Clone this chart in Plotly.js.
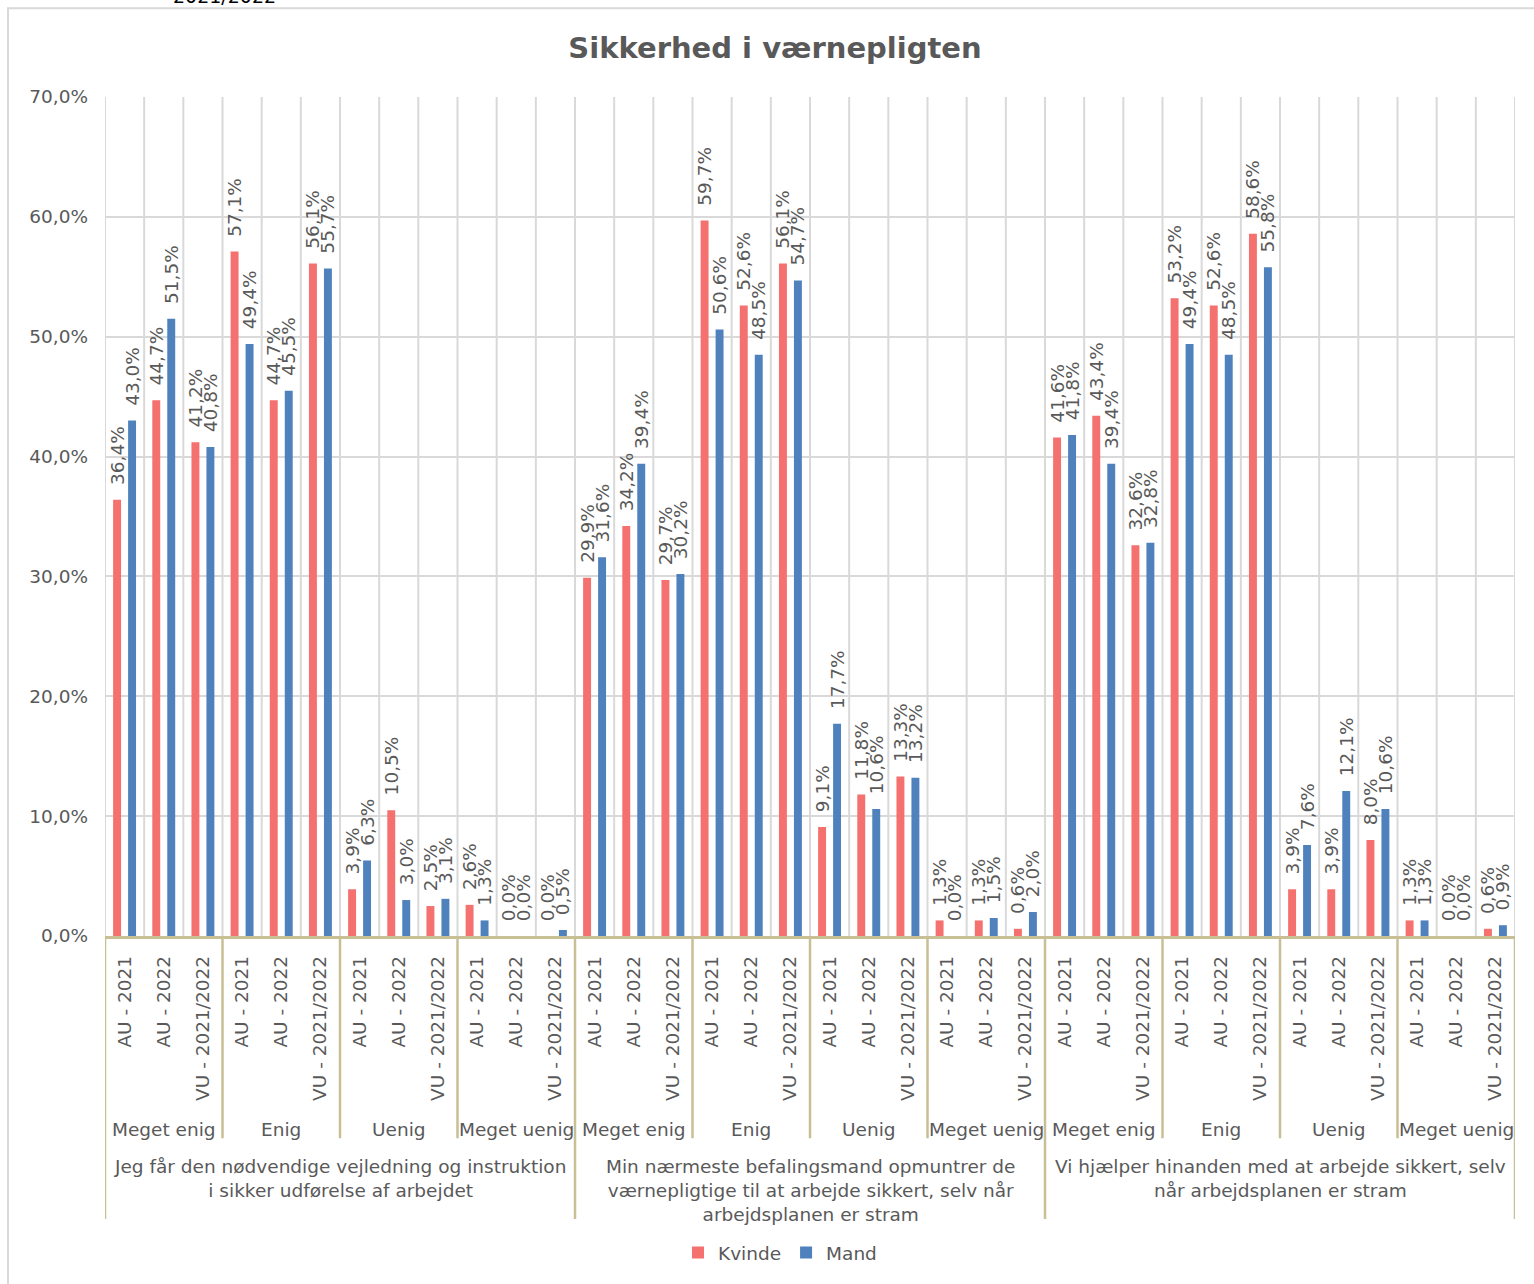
<!DOCTYPE html>
<html>
<head>
<meta charset="utf-8">
<script src="https://cdn.plot.ly/plotly-3.0.1.min.js"></script>
<style>
  html, body { margin: 0; padding: 0; background: #ffffff; }
  #chart { width: 1534px; height: 1284px; }
</style>
</head>
<body>
<div id="chart"></div>
<script>
// ---- Data ----
const questions = [
  "Jeg får den nødvendige vejledning og instruktion<br>i sikker udførelse af arbejdet",
  "Min nærmeste befalingsmand opmuntrer de<br>værnepligtige til at arbejde sikkert, selv når<br>arbejdsplanen er stram",
  "Vi hjælper hinanden med at arbejde sikkert, selv<br>når arbejdsplanen er stram"
];
const answers = ["Meget enig", "Enig", "Uenig", "Meget uenig"];
const periods = ["AU - 2021", "AU - 2022", "VU - 2021/2022"];

// Values in %, ordered question -> answer -> period
const kvinde = [
  36.4, 44.7, 41.2,   57.1, 44.7, 56.1,   3.9, 10.5, 2.5,   2.6, 0.0, 0.0,
  29.9, 34.2, 29.7,   59.7, 52.6, 56.1,   9.1, 11.8, 13.3,  1.3, 1.3, 0.6,
  41.6, 43.4, 32.6,   53.2, 52.6, 58.6,   3.9, 3.9, 8.0,    1.3, 0.0, 0.6
];
const mand = [
  43.0, 51.5, 40.8,   49.4, 45.5, 55.7,   6.3, 3.0, 3.1,    1.3, 0.0, 0.5,
  31.6, 39.4, 30.2,   50.6, 48.5, 54.7,   17.7, 10.6, 13.2, 0.0, 1.5, 2.0,
  41.8, 39.4, 32.8,   49.4, 48.5, 55.8,   7.6, 12.1, 10.6,  1.3, 0.0, 0.9
];
const seriesNames = ["Kvinde", "Mand"];
const yTicks = [0, 10, 20, 30, 40, 50, 60, 70];
const yTickText = yTicks.map(v => v.toFixed(1).replace(".", ",") + "%");

// ---- Build category positions ----
const nP = periods.length, nA = answers.length, nQ = questions.length;
const nCat = nP * nA * nQ;
const xIdx = [], tickText = [];
for (let q = 0; q < nQ; q++)
  for (let a = 0; a < nA; a++)
    for (let p = 0; p < nP; p++) { xIdx.push(xIdx.length); tickText.push(periods[p]); }

// ---- Layout geometry ----
const W = 1534, H = 1284;
const L = 105, R = 19, T = 97, B = 345;
const plotW = W - L - R, plotH = H - T - B;
const px2paperX = px => (px - L) / plotW;
const py2paperY = py => (H - B - py) / plotH;

const FONT = "DejaVu Sans, Verdana, sans-serif";
const GRAY = "#595959";
const TAN = "#C9BF94";
const GRID = "#D9D9D9";
const LABEL_TPL = "\u00A0\u00A0%{y:.1f}%";

const traces = [
  { type: "bar", name: seriesNames[0], x: xIdx, y: kvinde,
    marker: { color: "#F4716F" },
    texttemplate: LABEL_TPL, textposition: "outside", textangle: -90,
    textfont: { family: FONT, size: 18.5, color: GRAY },
    constraintext: "none", cliponaxis: false, hoverinfo: "x+y" },
  { type: "bar", name: seriesNames[1], x: xIdx, y: mand,
    marker: { color: "#4F81BD" },
    texttemplate: LABEL_TPL, textposition: "outside", textangle: -90,
    textfont: { family: FONT, size: 18.5, color: GRAY },
    constraintext: "none", cliponaxis: false, hoverinfo: "x+y" }
];

const shapes = [];
const annotations = [];

// outer chart border
shapes.push({ type: "rect", xref: "paper", yref: "paper",
  x0: px2paperX(8), x1: px2paperX(1545), y0: py2paperY(1295), y1: py2paperY(8),
  line: { color: "#D9D9D9", width: 2 }, fillcolor: "rgba(0,0,0,0)", layer: "below" });

// vertical gridlines at category boundaries
for (let i = 0; i <= nCat; i++) {
  shapes.push({ type: "line", xref: "x", yref: "paper", x0: i - 0.5, x1: i - 0.5, y0: 0, y1: 1,
    line: { color: GRID, width: 2 }, layer: "below" });
}
// tan separators for answer groups and question groups
for (let g = 0; g <= nA * nQ; g++) {
  const isQ = (g % nA === 0);
  shapes.push({ type: "line", xref: "x", yref: "paper", x0: g * nP - 0.5, x1: g * nP - 0.5,
    y0: 0, y1: isQ ? py2paperY(1223) : py2paperY(1142),
    line: { color: TAN, width: 2.5 } });
}

// answer labels
for (let q = 0; q < nQ; q++)
  for (let a = 0; a < nA; a++) {
    const c = (q * nA + a) * nP + (nP - 1) / 2;
    annotations.push({ xref: "x", yref: "paper", x: c, y: py2paperY(1133),
      xanchor: "center", yanchor: "middle", showarrow: false, text: answers[a],
      font: { family: FONT, size: 18.5, color: GRAY } });
  }
// question labels
for (let q = 0; q < nQ; q++) {
  const c = q * nA * nP + (nA * nP - 1) / 2;
  annotations.push({ xref: "x", yref: "paper", x: c, y: py2paperY(1158),
    xanchor: "center", yanchor: "top", showarrow: false, text: questions[q],
    align: "center", font: { family: FONT, size: 18.5, color: GRAY } });
}
// partially visible text at the very top edge (cut off in the reference too)
annotations.push({ xref: "paper", yref: "paper", x: px2paperX(224), y: py2paperY(9),
  xanchor: "center", yanchor: "bottom", showarrow: false, text: "2021/2022",
  font: { family: FONT, size: 19, color: "#000000" } });

const layout = {
  width: W, height: H,
  margin: { l: L, r: R, t: T, b: B, pad: 0 },
  paper_bgcolor: "#ffffff", plot_bgcolor: "#ffffff",
  separators: ",.",
  font: { family: FONT, color: GRAY, size: 18.5 },
  title: { text: "<b>Sikkerhed i værnepligten</b>", x: 775 / W, xanchor: "center",
    y: 1 - 48 / H, yanchor: "middle", yref: "container",
    font: { family: FONT, size: 29, color: GRAY } },
  barmode: "group", bargap: 0.235, bargroupgap: 0.47,
  xaxis: { range: [-0.5, nCat - 0.5], tickmode: "array", tickvals: xIdx, ticktext: tickText,
    tickangle: -90, showgrid: false, zeroline: false, showline: true, linecolor: TAN, linewidth: 2.5,
    ticks: "", ticklabelstandoff: 10, tickfont: { family: FONT, size: 18.5, color: GRAY },
    fixedrange: true },
  yaxis: { range: [0, 70], tickmode: "array", tickvals: yTicks, ticktext: yTickText,
    showgrid: true, gridcolor: GRID, gridwidth: 2, zeroline: false, showline: false, ticks: "",
    ticklabelstandoff: 16, tickfont: { family: FONT, size: 18.5, color: GRAY }, fixedrange: true },
  showlegend: true,
  legend: { orientation: "h", x: px2paperX(780), xanchor: "center", y: py2paperY(1257), yanchor: "middle",
    font: { family: FONT, size: 18.5, color: GRAY }, itemwidth: 30, traceorder: "normal" },
  shapes: shapes, annotations: annotations
};

Plotly.newPlot("chart", traces, layout, { displayModeBar: false, staticPlot: true });
</script>
</body>
</html>
